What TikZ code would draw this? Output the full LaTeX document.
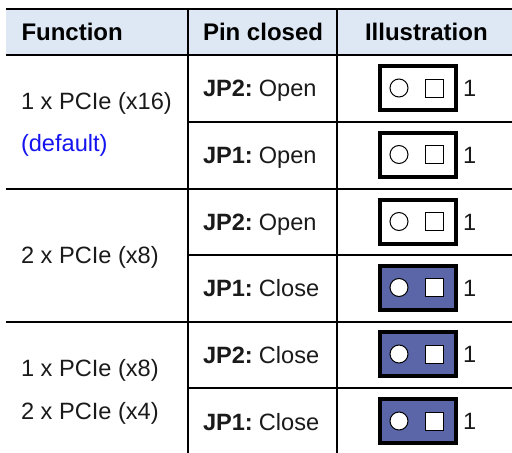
\documentclass[tikz,border=0pt]{standalone}
\usepackage{fontspec}
\setmainfont{Liberation Sans}
\definecolor{headfill}{HTML}{DEE8F4}
\definecolor{jumperblue}{HTML}{5A66A8}
\definecolor{defaultblue}{HTML}{1414F0}
\definecolor{inkgrey}{HTML}{1A1A1A}
\tikzset{
  x=1pt,y=-1pt,
  txt/.style={anchor=base west,inner sep=0pt,outer sep=0pt,text=inkgrey,font=\fontsize{23.6}{28}\selectfont},
  headtxt/.style={txt,text=black,font=\fontsize{24}{28}\selectfont\bfseries},
  grid/.style={line width=2pt,black},
  jumperopen/.style={draw=black,line width=4pt,fill=white,minimum width=76pt,minimum height=44pt,inner sep=0pt},
  jumperclosed/.style={draw=black,line width=4pt,fill=jumperblue,minimum width=76pt,minimum height=44pt,inner sep=0pt},
  pinround/.style={circle,draw=black,line width=1pt,fill=white,minimum size=18pt,inner sep=0pt},
  pinsquare/.style={rectangle,draw=black,line width=1pt,fill=white,minimum size=18pt,inner sep=0pt},
}
\newcommand{\jumper}[3]{%
  \node[#1] (box#2) at (417.7,#3) {};
  \node[pinround] (round#2) at (399,#3) {};
  \node[pinsquare] (square#2) at (434.8,#3) {};
  \node[txt] (one#2) at (463,#3+8.5) {1};
}
\newcommand{\pinlabel}[2]{\textbf{#1}\hspace{6pt}#2}
\begin{document}
\begin{tikzpicture}
\useasboundingbox (0,0) rectangle (512,453);
\fill[headfill] (6,9) rectangle (512,54.5);
\draw[grid] (6,9) -- (512,9);
\draw[grid] (6,54.5) -- (512,54.5);
\draw[grid] (188,9) -- (188,453);
\draw[grid] (337,9) -- (337,453);
\draw[grid] (188,122) -- (512,122);
\draw[grid] (6,188.7) -- (512,188.7);
\draw[grid] (188,255) -- (512,255);
\draw[grid] (6,321.7) -- (512,321.7);
\draw[grid] (188,388.4) -- (512,388.4);
\node[headtxt] (h1) at (21.5,40.7) {Function};
\node[headtxt] (h2) at (203,40.7) {Pin closed};
\node[headtxt] (h3) at (365,40.7) {Illustration};
\node[txt] (f1) at (21,109.3) {1 x PCIe (x16)};
\node[txt,text=defaultblue] (f1b) at (21,151.7) {(default)};
\node[txt] (f2) at (21,263) {2 x PCIe (x8)};
\node[txt] (f3) at (21,376) {1 x PCIe (x8)};
\node[txt] (f3b) at (21,419) {2 x PCIe (x4)};
\node[txt] (p1) at (203,96.7) {\pinlabel{JP2:}{Open}};
\node[txt] (p2) at (203,163.4) {\pinlabel{JP1:}{Open}};
\node[txt] (p3) at (203,230) {\pinlabel{JP2:}{Open}};
\node[txt] (p4) at (203,296.7) {\pinlabel{JP1:}{Close}};
\node[txt] (p5) at (203,363.4) {\pinlabel{JP2:}{Close}};
\node[txt] (p6) at (203,430) {\pinlabel{JP1:}{Close}};
\jumper{jumperopen}{a}{88}
\jumper{jumperopen}{b}{154.5}
\jumper{jumperopen}{c}{221.5}
\jumper{jumperclosed}{d}{287.5}
\jumper{jumperclosed}{e}{354}
\jumper{jumperclosed}{f}{421}
\end{tikzpicture}
\end{document}
